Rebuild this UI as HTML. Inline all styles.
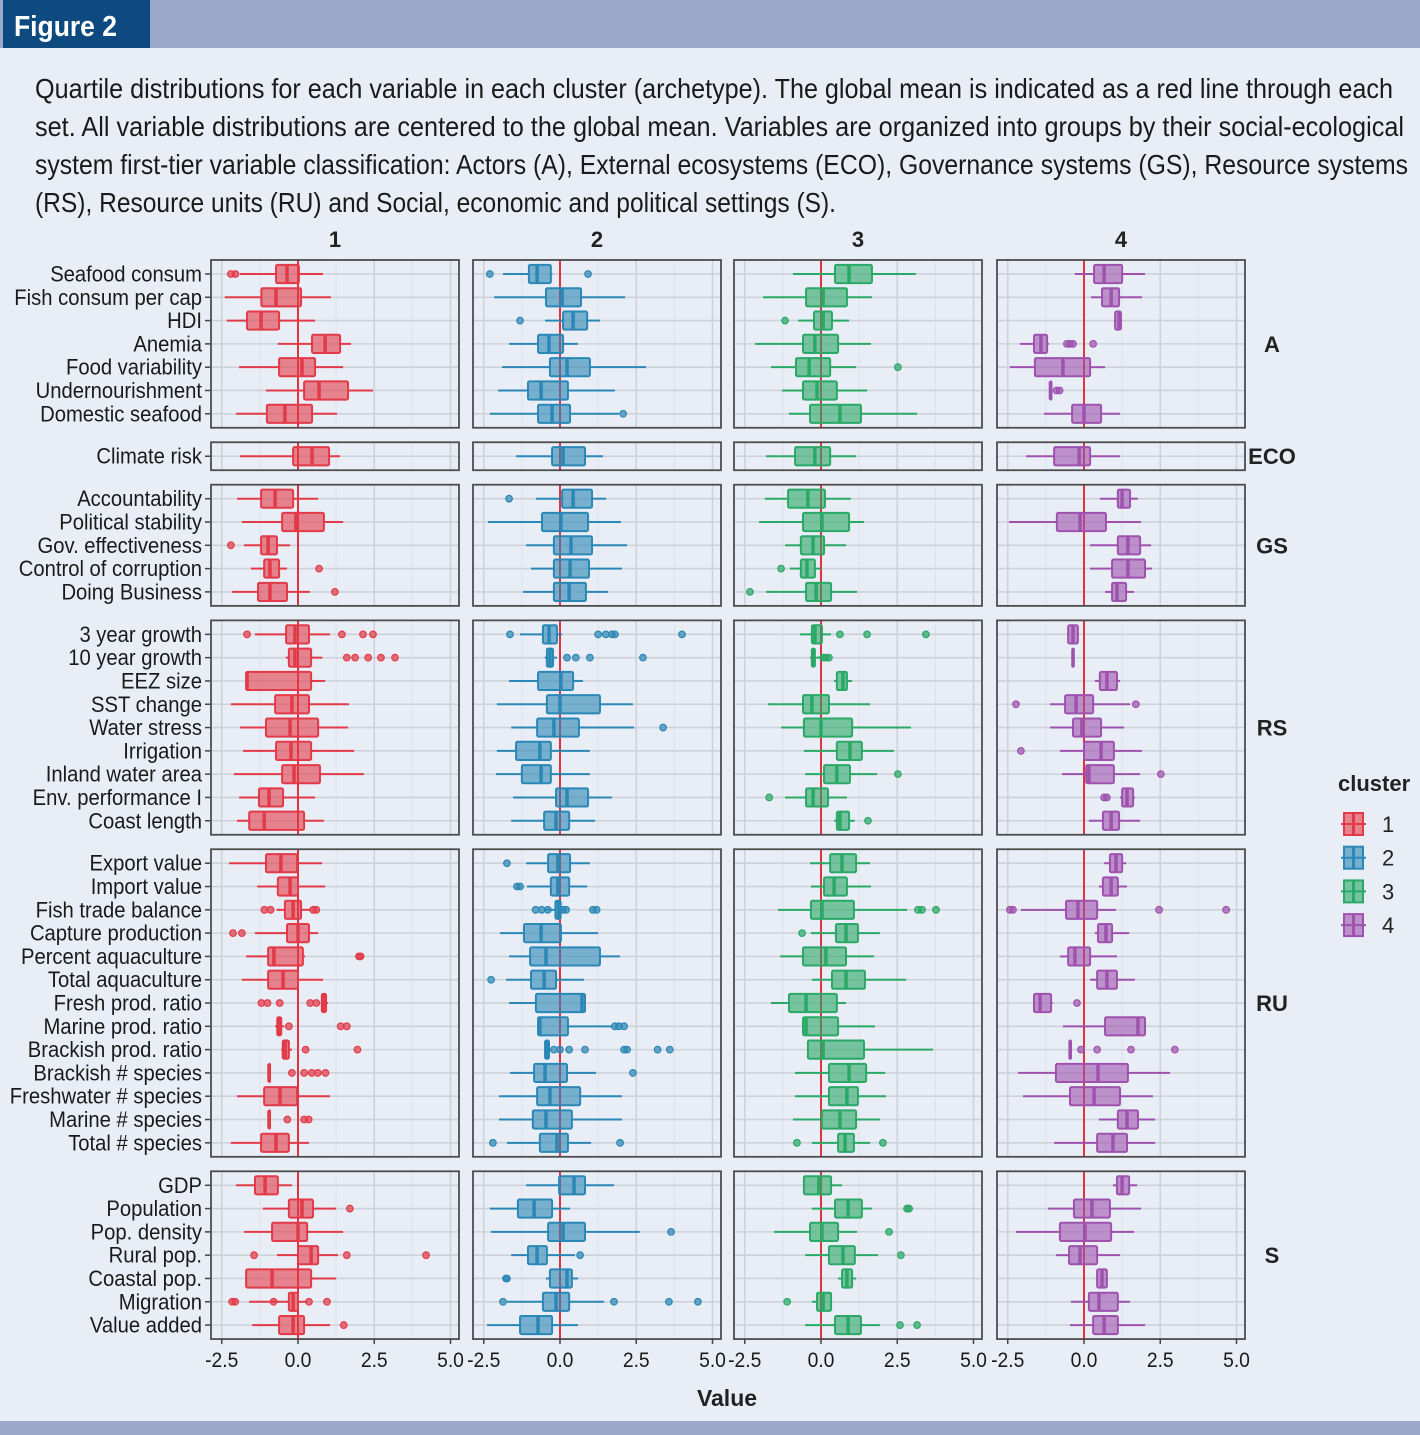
<!DOCTYPE html>
<html><head><meta charset="utf-8"><style>
html,body{margin:0;padding:0;background:#e9eef6;}
svg{display:block;}
</style></head><body>
<svg id="fig" width="1420" height="1435" viewBox="0 0 1420 1435" xmlns="http://www.w3.org/2000/svg" font-family="'Liberation Sans Narrow','Liberation Sans',sans-serif">
<rect x="0" y="0" width="1420" height="1435" fill="#e9eef6"/>
<rect x="0" y="0" width="1420" height="48" fill="#9aa8c9"/>
<rect x="3" y="0" width="147" height="48" fill="#0e4a7f"/>
<text x="14" y="36" font-size="29" font-weight="bold" fill="#fff" textLength="103" lengthAdjust="spacingAndGlyphs">Figure 2</text>
<g font-size="28" fill="#1a1a1a">
<text x="35" y="98" textLength="1358" lengthAdjust="spacingAndGlyphs">Quartile distributions for each variable in each cluster (archetype). The global mean is indicated as a red line through each</text>
<text x="35" y="136" textLength="1369" lengthAdjust="spacingAndGlyphs">set. All variable distributions are centered to the global mean. Variables are organized into groups by their social-ecological</text>
<text x="35" y="174" textLength="1373" lengthAdjust="spacingAndGlyphs">system first-tier variable classification: Actors (A), External ecosystems (ECO), Governance systems (GS), Resource systems</text>
<text x="35" y="212" textLength="801" lengthAdjust="spacingAndGlyphs">(RS), Resource units (RU) and Social, economic and political settings (S).</text>
</g>
<g id="chart"></g>
<rect x="0" y="1421" width="1420" height="14" fill="#9aa8c9"/>
</svg>
<script>
const groupNames=['A','ECO','GS','RS','RU','S'];
const groupVars=[
['Seafood consum','Fish consum per cap','HDI','Anemia','Food variability','Undernourishment','Domestic seafood'],
['Climate risk'],
['Accountability','Political stability','Gov. effectiveness','Control of corruption','Doing Business'],
['3 year growth','10 year growth','EEZ size','SST change','Water stress','Irrigation','Inland water area','Env. performance I','Coast length'],
['Export value','Import value','Fish trade balance','Capture production','Percent aquaculture','Total aquaculture','Fresh prod. ratio','Marine prod. ratio','Brackish prod. ratio','Brackish # species','Freshwater # species','Marine # species','Total # species'],
['GDP','Population','Pop. density','Rural pop.','Coastal pop.','Migration','Value added']
];
const clusterNames=['1','2','3','4'];
const xTicks=[-2.5,0,2.5,5];
const xTickLabels=['-2.5','0.0','2.5','5.0'];
// each entry: [lower whisker, q1, median, q3, upper whisker, ...outliers]
const cluster1=[
[-1.9,-0.72,-0.36,0.03,0.82,-2.2,-2.05],[-2.4,-1.2,-0.72,0.1,1.08],[-2.33,-1.67,-1.21,-0.62,0.56],[-0.66,0.46,0.89,1.38,1.74],[-1.93,-0.62,0.13,0.56,1.48],[-1.05,0.2,0.69,1.64,2.46],[-2.03,-1.02,-0.43,0.46,1.28],
[-1.9,-0.16,0.46,1.02,1.38],
[-2.0,-1.21,-0.75,-0.16,0.66],[-1.84,-0.52,-0.07,0.85,1.48],[-1.77,-1.21,-0.98,-0.69,-0.26,-2.2],[-1.54,-1.11,-0.92,-0.62,-0.36,0.69],[-2.16,-1.31,-0.92,-0.36,0.39,1.21],
[-1.41,-0.39,-0.1,0.36,1.05,-1.67,1.44,2.13,2.46],[-0.4,-0.3,-0.1,0.43,0.8,1.6,1.87,2.3,2.72,3.18],[-1.7,-1.7,-1.67,0.43,0.89],[-2.2,-0.75,-0.2,0.36,1.67],[-1.9,-1.05,-0.26,0.66,1.64],[-1.8,-0.72,-0.23,0.43,1.84],[-2.1,-0.52,-0.13,0.72,2.16],[-1.93,-1.28,-0.95,-0.49,0.56],[-2.0,-1.6,-1.11,0.2,0.85],
[-2.26,-1.05,-0.56,-0.03,0.79],[-1.34,-0.66,-0.26,0,0.89],[-0.7,-0.43,-0.16,0.1,0.43,-1.1,-0.9,0.5,0.6],[-1.41,-0.36,0,0.36,0.66,-2.13,-1.84],[-1.7,-0.98,-0.79,0.16,0.23,2.0,2.05],[-1.84,-0.98,-0.49,0,0.82],[0.75,0.78,0.85,0.92,0.98,-1.2,-1.0,-0.6,0.4,0.6],[-0.75,-0.68,-0.62,-0.55,-0.45,-0.3,1.4,1.6],[-0.55,-0.5,-0.42,-0.3,-0.2,0.25,1.95],[-0.95,-0.95,-0.95,-0.95,-0.95,-0.2,0.2,0.45,0.65,0.9],[-2.0,-1.11,-0.59,-0.03,1.05],[-0.95,-0.95,-0.95,-0.95,-0.95,-0.35,0.2,0.35],[-2.2,-1.21,-0.72,-0.3,0.36],
[-2.03,-1.41,-1.08,-0.66,-0.2],[-1.15,-0.3,0.13,0.49,1.25,1.7],[-1.77,-0.85,0,0.3,1.48],[-0.69,0,0.43,0.66,1.31,-1.44,1.6,4.2],[-1.7,-1.7,-0.85,0.43,1.25],[-1.6,-0.3,-0.16,0,0.3,-2.16,-2.06,-0.8,0.36,0.95],[-1.5,-0.62,-0.16,0.2,1.05,1.5]
];
const cluster2=[
[-1.87,-1.02,-0.75,-0.3,-0.25,-2.3,0.92],[-2.16,-0.46,0.07,0.69,2.13],[-0.49,0.1,0.43,0.89,1.31,-1.31],[-1.67,-0.72,-0.36,0.1,0.59],[-1.9,-0.33,0.23,0.98,2.82],[-2.03,-1.05,-0.62,0.26,1.8],[-2.3,-0.72,-0.26,0.33,1.93,2.07],
[-1.44,-0.26,0.1,0.82,1.41],
[-0.79,0.07,0.43,1.05,1.51,-1.67],[-2.36,-0.59,0.03,0.92,2.0],[-1.11,-0.2,0.36,1.05,2.2],[-0.95,-0.2,0.33,0.95,2.03],[-1.21,-0.2,0.3,0.85,1.57],
[-1.31,-0.56,-0.36,-0.1,0.07,-1.64,1.25,1.5,1.7,1.8,4.0],[-0.5,-0.43,-0.33,-0.23,-0.1,0.23,0.52,0.98,2.72],[-1.67,-0.72,0.03,0.43,0.75],[-2.07,-0.43,0,1.31,2.39],[-1.6,-0.75,-0.2,0.62,2.43,3.38],[-2.07,-1.44,-0.66,-0.3,0.98],[-2.1,-1.25,-0.62,-0.3,0.98],[-1.54,-0.13,0.23,0.92,1.7],[-1.6,-0.52,-0.13,0.3,1.15],
[-1.11,-0.39,-0.07,0.33,0.98,-1.74],[-1.08,-0.3,-0.07,0.3,0.89,-1.41,-1.31],[-0.5,-0.15,-0.05,0.02,0.15,-0.8,-0.6,-0.4,0.1,0.2,1.08,1.2],[-1.97,-1.18,-0.62,0.03,1.25],[-1.67,-0.98,-0.46,1.31,1.97],[-1.77,-0.95,-0.52,-0.13,0.79,-2.26],[-1.67,-0.79,0.72,0.82,0.82],[-0.72,-0.72,-0.66,0.26,1.7,1.8,1.93,2.1],[-0.5,-0.49,-0.43,-0.36,-0.3,-0.2,0,0.3,0.82,2.1,2.2,3.2,3.6],[-1.64,-0.85,-0.49,0.23,1.18,2.39],[-2.0,-0.75,-0.33,0.66,2.03],[-2.0,-0.89,-0.46,0.39,2.03],[-1.74,-0.66,-0.1,0.26,1.02,-2.2,1.97],
[-1.11,-0.03,0.46,0.82,1.77],[-2.3,-1.38,-0.85,-0.26,0.33],[-2.26,-0.39,0.1,0.82,2.62,3.64],[-1.6,-1.05,-0.75,-0.43,0.49,0.66],[-0.46,-0.33,0.23,0.39,0.59,-1.77,-1.74],[-1.74,-0.56,-0.13,0.3,1.44,-1.87,1.77,3.57,4.52],[-2.39,-1.31,-0.72,-0.26,0.59]
];
const cluster3=[
[-0.92,0.46,0.92,1.67,3.11],[-1.9,-0.49,0.07,0.85,1.67],[-0.75,-0.23,0.07,0.36,0.92,-1.18],[-2.16,-0.59,-0.2,0.56,1.64],[-1.64,-0.82,-0.39,0.3,1.15,2.52],[-1.28,-0.59,-0.13,0.52,1.51],[-1.05,-0.36,0.62,1.31,3.15],
[-1.8,-0.85,-0.2,0.3,1.15],
[-1.84,-1.08,-0.43,0.13,0.98],[-2.03,-0.59,0.03,0.92,1.41],[-1.18,-0.66,-0.26,0.1,0.82],[-1.02,-0.66,-0.46,-0.2,0,-1.31],[-1.8,-0.49,-0.16,0.33,1.18,-2.33],
[-0.69,-0.3,-0.2,0.03,0.33,0.62,1.51,3.44],[-0.36,-0.3,-0.26,-0.2,0,0.07,0.16,0.26],[0.43,0.52,0.72,0.85,1.02],[-1.74,-0.59,-0.3,0.26,1.61],[-1.31,-0.56,0,1.02,2.95],[-0.56,0.52,0.95,1.34,2.39],[-0.52,0.1,0.52,0.95,1.84,2.52],[-1.18,-0.49,-0.26,0.23,0.85,-1.7],[0.43,0.52,0.62,0.92,1.11,1.54],
[-0.36,0.3,0.69,1.15,1.61],[-0.33,0.1,0.43,0.85,1.64],[-1.41,-0.33,0.03,1.08,2.82,3.18,3.31,3.77],[-0.33,0.49,0.82,1.21,1.93,-0.62],[-1.34,-0.59,0.16,0.82,1.74],[-0.3,0.36,0.82,1.44,2.79],[-1.64,-1.05,-0.49,0.52,0.82],[-0.59,-0.59,-0.49,0.56,1.77],[-0.43,-0.43,0.07,1.41,3.67],[-0.85,0.26,0.92,1.48,2.1],[-0.85,0.26,0.85,1.21,2.13],[-0.92,0.03,0.62,1.15,1.93],[-0.3,0.56,0.79,1.08,1.61,-0.79,2.03],
[-0.59,-0.56,-0.07,0.33,0.69],[-0.3,0.46,0.89,1.34,1.67,2.82,2.89],[-1.54,-0.36,0.03,0.56,1.18,2.23],[-0.52,0.26,0.72,1.11,1.87,2.62],[0.56,0.69,0.85,1.02,1.15],[-0.3,-0.13,0.07,0.33,0.36,-1.11],[-0.52,0.46,0.89,1.31,1.93,2.59,3.15]
];
const cluster4=[
[-0.3,0.33,0.66,1.25,2.0],[0.23,0.59,0.89,1.15,1.9],[0.98,1.02,1.15,1.21,1.25],[-2.1,-1.64,-1.41,-1.21,-1.15,-0.56,-0.46,-0.36,0.3],[-2.43,-1.61,-0.69,0.2,0.69],[-1.1,-1.1,-1.1,-1.08,-1.05,-0.9,-0.8],[-1.31,-0.39,0,0.56,1.18],
[-1.9,-0.98,-0.16,0.2,1.18],
[0.52,1.11,1.25,1.51,1.77],[-2.46,-0.89,-0.13,0.72,1.87],[0.2,1.11,1.44,1.84,2.2],[0.2,0.92,1.44,2.0,2.23],[0.69,0.92,1.08,1.38,1.64],
[-0.56,-0.52,-0.36,-0.2,-0.16],[-0.4,-0.38,-0.36,-0.34,-0.33],[0.36,0.52,0.75,1.08,1.18],[-1.11,-0.62,-0.26,0.3,1.51,-2.23,1.7],[-1.11,-0.36,-0.07,0.56,1.31],[-0.79,0,0.56,0.98,1.9,-2.07],[-0.72,0.07,0.16,0.98,1.84,2.52],[1.18,1.25,1.41,1.61,1.67,0.66,0.75],[0.16,0.62,0.89,1.15,1.84],
[0.66,0.85,1.05,1.25,1.38],[0.49,0.62,0.89,1.11,1.41],[-2.07,-0.59,-0.2,0.43,1.05,-2.43,-2.33,2.46,4.66],[0.36,0.46,0.72,0.92,1.48],[-0.79,-0.52,-0.3,0.2,1.08],[0.2,0.43,0.75,1.08,1.67],[-1.67,-1.64,-1.44,-1.08,-1.02,-0.23],[-0.69,0.69,1.77,2.0,2.0],[-0.5,-0.48,-0.45,-0.43,-0.4,-0.1,0.43,1.54,2.98],[-2.16,-0.92,0.46,1.44,2.82],[-2.0,-0.46,0.33,1.18,2.26],[0.49,1.11,1.41,1.77,2.33],[-0.98,0.43,0.95,1.41,2.33],
[0.95,1.08,1.25,1.48,1.74],[-1.18,-0.33,0.26,0.85,1.87],[-2.23,-0.79,0.03,0.89,1.64],[-0.92,-0.49,-0.13,0.43,1.18],[0.39,0.43,0.59,0.75,0.75],[-0.43,0.16,0.49,1.11,1.51],[-0.46,0.3,0.66,1.11,2.0]
];
const clusterData=[cluster1,cluster2,cluster3,cluster4];
const colors=['#e23a48','#2b87b5','#2aa866','#9e52ae'];

const NS='http://www.w3.org/2000/svg';
const root=document.getElementById('chart');
function mk(tag,attrs,parent){const e=document.createElementNS(NS,tag);for(const k in attrs)e.setAttribute(k,attrs[k]);(parent||root).appendChild(e);return e;}
const zeros=[298,560,821,1084];
const unit=30.5;
const panelLeftOff=-87, panelW=248;
function xs(c,v){return zeros[c]+v*unit;}
const top0=260, step=23.3, gap=14.5;

clusterNames.forEach((n,c)=>{
  const t=mk('text',{x:zeros[c]+panelLeftOff+panelW/2,y:247,'font-size':22,'font-weight':'bold','text-anchor':'middle',fill:'#222'});
  t.textContent=n;
  
  
});

let y0=top0, idx=0;
groupNames.forEach((g,gi)=>{
  const vars=groupVars[gi];
  const h=(vars.length+0.2)*step;
  const rowY=i=>y0+(i+0.6)*step;
  for(let c=0;c<4;c++){
    const px=zeros[c]+panelLeftOff;
    const pg=mk('g',{});
    
    
    mk('rect',{x:px,y:y0,width:panelW,height:h,fill:'#e9eef6'},pg);
    [-1.25,1.25,3.75].forEach(v=>mk('line',{x1:xs(c,v),x2:xs(c,v),y1:y0,y2:y0+h,stroke:'#dde1e8','stroke-width':1},pg));
    xTicks.forEach(v=>mk('line',{x1:xs(c,v),x2:xs(c,v),y1:y0,y2:y0+h,stroke:'#cdd2da','stroke-width':1.6},pg));
    vars.forEach((v,i)=>mk('line',{x1:px,x2:px+panelW,y1:rowY(i),y2:rowY(i),stroke:'#cdd2da','stroke-width':1.6},pg));
    mk('line',{x1:xs(c,0),x2:xs(c,0),y1:y0,y2:y0+h,stroke:'#e0323f','stroke-width':2},pg);
    vars.forEach((v,i)=>{
      const d=clusterData[c][idx+i];
      const y=rowY(i), col=colors[c], bh=step*0.78;
      const bg=mk('g',{},pg);
      
      
      mk('line',{x1:xs(c,d[0]),x2:xs(c,d[1]),y1:y,y2:y,stroke:col,'stroke-width':2},bg);
      mk('line',{x1:xs(c,d[3]),x2:xs(c,d[4]),y1:y,y2:y,stroke:col,'stroke-width':2},bg);
      mk('rect',{x:xs(c,d[1]),y:y-bh/2,width:Math.max(1,xs(c,d[3])-xs(c,d[1])),height:bh,fill:col,'fill-opacity':0.6,stroke:col,'stroke-width':2,rx:1.5},bg);
      mk('line',{x1:xs(c,d[2]),x2:xs(c,d[2]),y1:y-bh/2,y2:y+bh/2,stroke:col,'stroke-width':3.5},bg);
      for(let k=5;k<d.length;k++){
        mk('circle',{cx:xs(c,d[k]),cy:y,r:3.3,fill:col,'fill-opacity':0.7,stroke:col,'stroke-width':1.2},bg);
      }
    });
    mk('rect',{x:px,y:y0,width:panelW,height:h,fill:'none',stroke:'#4d4d4d','stroke-width':1.8},pg);
  }
  vars.forEach((v,i)=>{
    const y=rowY(i);
    mk('line',{x1:205,x2:210,y1:y,y2:y,stroke:'#444','stroke-width':1.5});
    const t=mk('text',{x:0,y:0,'font-size':22,'text-anchor':'end',fill:'#1a1a1a',transform:'translate(202,'+(y+7.5)+') scale(0.92,1)'});
    t.textContent=v;
    
    
  });
  const st=mk('text',{x:1272,y:y0+h/2+8,'font-size':22,'font-weight':'bold','text-anchor':'middle',fill:'#222'});
  st.textContent=g;
  
  
  idx+=vars.length;
  y0+=h+gap;
});
const bottom=y0-gap;
for(let c=0;c<4;c++){
  xTicks.forEach((v,k)=>{
    mk('line',{x1:xs(c,v),x2:xs(c,v),y1:bottom,y2:bottom+5,stroke:'#444','stroke-width':1.5});
    const t=mk('text',{x:0,y:0,'font-size':21,'text-anchor':'middle',fill:'#1a1a1a',transform:'translate('+xs(c,v)+','+(bottom+28)+') scale(0.92,1)'});
    t.textContent=xTickLabels[k];
    
    
  });
}
const xt=mk('text',{x:727,y:1406,'font-size':23,'font-weight':'bold','text-anchor':'middle',fill:'#222'});
xt.textContent='Value';


const lg=mk('g',{});


const lt=mk('text',{x:1338,y:791,'font-size':22,'font-weight':'bold',fill:'#222'},lg);
lt.textContent='cluster';
clusterNames.forEach((n,k)=>{
  const y=824+k*33.7, col=colors[k];
  const e=mk('g',{},lg);
  
  
  mk('line',{x1:1341,x2:1366,y1:y,y2:y,stroke:col,'stroke-width':2},e);
  mk('rect',{x:1344,y:y-11,width:19,height:22,fill:col,'fill-opacity':0.6,stroke:col,'stroke-width':2},e);
  mk('line',{x1:1353.5,x2:1353.5,y1:y-11,y2:y+11,stroke:col,'stroke-width':3},e);
  const t=mk('text',{x:1382,y:y+8,'font-size':22,fill:'#222'},e);
  t.textContent=n;
});
</script>
</body></html>
